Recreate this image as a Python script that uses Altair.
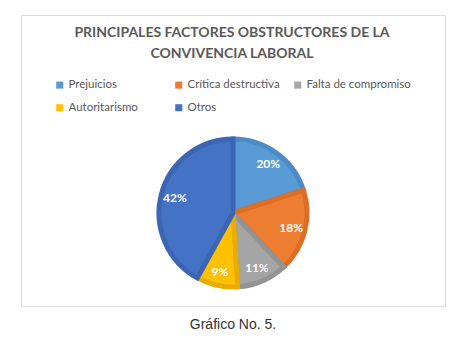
import altair as alt
import pandas as pd

categorias = ["Prejuicios", "Crítica destructiva", "Falta de compromiso", "Autoritarismo", "Otros"]
porcentajes = [20, 18, 11, 9, 42]
titulo = ["PRINCIPALES FACTORES OBSTRUCTORES DE LA", "CONVIVENCIA LABORAL"]
pie_texto = "Gráfico No. 5."

rellenos = ["#5B9BD5", "#ED7D31", "#A5A5A5", "#FFC000", "#4472C4"]
bordes = ["#4D8BC6", "#DC6E26", "#939393", "#E8AD00", "#3C65B3"]

df = pd.DataFrame({"categoria": categorias, "valor": porcentajes, "orden": list(range(len(categorias)))})
df["etiqueta"] = df["valor"].astype(str) + "%"

W, H = 424, 291
CX, CY = 212, 198

base = alt.Chart(df).encode(
    theta=alt.Theta("valor:Q", stack=True),
    order=alt.Order("orden:Q"),
)

arcos = base.mark_arc(outerRadius=74, strokeWidth=5, strokeJoin="miter").encode(
    color=alt.Color(
        "categoria:N",
        scale=alt.Scale(domain=categorias, range=rellenos),
        sort=categorias,
        legend=alt.Legend(
            title=None, orient="none", legendX=33, legendY=64, columns=3, direction="horizontal",
            gridAlign="all", symbolType="square", symbolSize=50, symbolStrokeWidth=0,
            labelFont="Lato", labelFontSize=11.5, labelColor="#595959",
            rowPadding=10, columnPadding=0, symbolOffset=0, labelOffset=3,
        ),
    ),
    stroke=alt.Stroke("categoria:N", scale=alt.Scale(domain=categorias, range=bordes), legend=None),
    x=alt.value(CX), y=alt.value(CY),
)

etiquetas = base.mark_text(radius=60, font="Lato", fontSize=12, fontWeight="bold", color="white").encode(
    text="etiqueta:N", x=alt.value(CX), y=alt.value(CY),
)

cabecera = alt.Chart(pd.DataFrame({"t": [0]})).mark_text(
    text=titulo, font="Lato", fontSize=14, fontWeight="bold", color="#595959",
    lineHeight=21, baseline="top", align="center",
).encode(x=alt.value(211), y=alt.value(11))

chart = alt.layer(arcos, etiquetas, cabecera).properties(
    width=W, height=H,
    autosize=alt.AutoSizeParams(type="none"),
    padding={"left": 21, "top": 15, "right": 17, "bottom": 47},
    title=alt.TitleParams(
        pie_texto, orient="bottom", anchor="middle", offset=12,
        font="Liberation Sans", fontSize=14, fontWeight="normal", color="#333333",
    ),
).configure_view(stroke="#D9D9D9", strokeWidth=1).configure(background="white")

chart.save("out.html", embed_options={"renderer": "svg", "actions": False})
